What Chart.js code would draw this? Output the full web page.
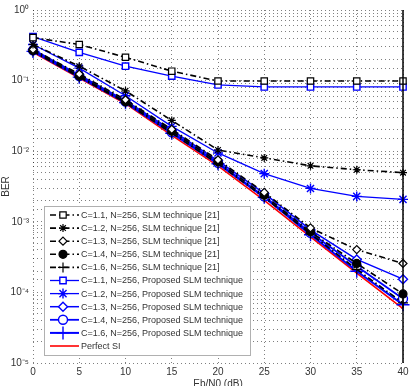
<!DOCTYPE html>
<html>
<head>
<meta charset="utf-8">
<script src="https://cdn.jsdelivr.net/npm/chart.js@4/dist/chart.umd.min.js"></script>
<style>
  body { margin: 0; background: #fff; }
  #wrap { width: 415px; height: 386px; }
</style>
</head>
<body>
<div id="wrap"><canvas id="berChart"></canvas></div>
<script>
const snr = [0, 5, 10, 15, 20, 25, 30, 35, 40];

// SLM technique [21]
const slm11 = [0.406, 0.325, 0.214, 0.136, 0.0987, 0.0987, 0.0987, 0.0987, 0.0987];
const slm12 = [0.325, 0.160, 0.0716, 0.0273, 0.0104, 0.00804, 0.00621, 0.00546, 0.00497];
const slm13 = [0.276, 0.124, 0.0536, 0.0204, 0.00754, 0.00261, 8.19e-4, 4.04e-4, 2.57e-4];
const slm14 = [0.268, 0.116, 0.0503, 0.0191, 0.00707, 0.00237, 7.21e-4, 2.57e-4, 9.5e-5];
const slm16 = [0.259, 0.112, 0.0487, 0.0180, 0.00663, 0.00222, 6.76e-4, 2.12e-4, 7.1e-5];

// proposed SLM technique
const prop11 = [0.420, 0.251, 0.160, 0.116, 0.0868, 0.0814, 0.0814, 0.0814, 0.0814];
const prop12 = [0.325, 0.150, 0.0610, 0.0225, 0.00944, 0.00481, 0.00297, 0.00229, 0.00208];
const prop13 = [0.276, 0.120, 0.0519, 0.0198, 0.00730, 0.00252, 7.68e-4, 2.93e-4, 1.54e-4];
const prop14 = [0.268, 0.116, 0.0503, 0.0185, 0.00684, 0.00229, 6.98e-4, 2.34e-4, 8.1e-5];
const prop16 = [0.259, 0.112, 0.0487, 0.0180, 0.00663, 0.00222, 6.55e-4, 1.99e-4, 6.7e-5];

const perfectSI = [0.251, 0.109, 0.0471, 0.0168, 0.00621, 0.00201, 6.14e-4, 1.87e-4, 5.9e-5];

const labels = [
  "C=1.1, N=256, SLM technique [21]",
  "C=1.2, N=256, SLM technique [21]",
  "C=1.3, N=256, SLM technique [21]",
  "C=1.4, N=256, SLM technique [21]",
  "C=1.6, N=256, SLM technique [21]",
  "C=1.1, N=256, Proposed SLM technique",
  "C=1.2, N=256, Proposed SLM technique",
  "C=1.3, N=256, Proposed SLM technique",
  "C=1.4, N=256, Proposed SLM technique",
  "C=1.6, N=256, Proposed SLM technique",
  "Perfect SI"
];

const superDigits = { "-": "\u207B", "0": "\u2070", "1": "\u00B9", "2": "\u00B2", "3": "\u00B3", "4": "\u2074", "5": "\u2075" };

function points(values) {
  return values.map((v, i) => ({ x: snr[i], y: v }));
}

function slmSet(i, values, style, fill, radius) {
  return {
    label: labels[i],
    data: points(values),
    borderColor: "#000",
    borderWidth: 1.6,
    borderDash: [6, 3, 1.5, 3],
    pointStyle: style,
    pointRadius: radius,
    pointBorderWidth: 1.2,
    pointBackgroundColor: fill,
    pointBorderColor: "#000",
    clip: false
  };
}

function propSet(i, values, style, radius, width) {
  return {
    label: labels[i],
    data: points(values),
    borderColor: "#0000ff",
    borderWidth: width,
    pointStyle: style,
    pointRadius: radius,
    pointBorderWidth: 1.4,
    pointBackgroundColor: "#fff",
    pointBorderColor: "#0000ff",
    clip: false
  };
}

const datasets = [
  slmSet(0, slm11, "rect", "#fff", 4.5),
  slmSet(1, slm12, "star", "#000", 4),
  slmSet(2, slm13, "rectRot", "#fff", 4),
  slmSet(3, slm14, "circle", "#000", 4),
  slmSet(4, slm16, "cross", "#000", 5),
  propSet(5, prop11, "rect", 4.5, 1.3),
  propSet(6, prop12, "star", 5, 1.3),
  propSet(7, prop13, "rectRot", 4.5, 1.5),
  propSet(8, prop14, "circle", 4.5, 1.8),
  propSet(9, prop16, "cross", 6.5, 2),
  {
    label: labels[10],
    data: points(perfectSI),
    borderColor: "#ff0000",
    borderWidth: 1.6,
    pointRadius: 0,
    clip: false
  }
];

// legend box drawn inside the plot, bottom-left
const boxLegend = {
  id: "boxLegend",
  afterDatasetsDraw(chart) {
    const ctx = chart.ctx;
    const x0 = 44, y0 = 206, w = 206, h = 149;
    ctx.save();
    ctx.fillStyle = "#fff";
    ctx.fillRect(x0, y0, w, h);
    ctx.strokeStyle = "#b0b0b0";
    ctx.lineWidth = 1;
    ctx.strokeRect(x0 + 0.5, y0 + 0.5, w, h);
    chart.data.datasets.forEach((ds, i) => {
      const y = 215 + i * 13.1;
      ctx.strokeStyle = ds.borderColor;
      ctx.lineWidth = ds.borderWidth;
      ctx.setLineDash(ds.borderDash || []);
      ctx.beginPath();
      ctx.moveTo(50, y);
      ctx.lineTo(79, y);
      ctx.stroke();
      ctx.setLineDash([]);
      if (ds.pointRadius > 0) {
        ctx.fillStyle = ds.pointBackgroundColor;
        ctx.strokeStyle = ds.pointBorderColor;
        ctx.lineWidth = ds.pointBorderWidth;
        Chart.helpers.drawPoint(ctx, {
          pointStyle: ds.pointStyle,
          radius: ds.pointRadius,
          rotation: 0,
          borderWidth: ds.pointBorderWidth
        }, 63, y);
      }
      ctx.fillStyle = "#333";
      ctx.font = "9px 'Liberation Sans', Arial, sans-serif";
      ctx.textBaseline = "middle";
      ctx.fillText(ds.label, 81, y + 0.5);
    });
    ctx.restore();
  },
  afterDraw(chart) {
    const a = chart.chartArea;
    const ctx = chart.ctx;
    ctx.save();
    ctx.strokeStyle = "#000";
    ctx.lineWidth = 1.5;
    ctx.beginPath();
    ctx.moveTo(a.right, a.top);
    ctx.lineTo(a.right, a.bottom);
    ctx.stroke();
    ctx.restore();
  }
};

const ctx = document.getElementById("berChart").getContext("2d");

new Chart(ctx, {
  type: "line",
  data: { datasets: datasets },
  options: {
    responsive: true,
    maintainAspectRatio: false,
    animation: false,
    layout: { padding: { top: 0, right: 12, left: 0, bottom: 0 } },
    plugins: {
      legend: { display: false },
      tooltip: { enabled: false }
    },
    scales: {
      x: {
        type: "linear",
        min: 0,
        max: 40,
        afterFit: (scale) => { scale.height = 23; },
        ticks: {
          stepSize: 5,
          padding: 3,
          color: "#333",
          font: { family: "'Liberation Sans', Arial, sans-serif", size: 10 }
        },
        grid: { color: "rgba(0,0,0,0.5)", drawTicks: false },
        border: { display: false, dash: [1, 3] },
        title: {
          display: true,
          text: "Eb/N0 (dB)",
          color: "#333",
          padding: { top: 0, bottom: -4 },
          font: { family: "'Liberation Sans', Arial, sans-serif", size: 10 }
        }
      },
      y: {
        type: "logarithmic",
        min: 1e-5,
        max: 1,
        afterFit: (scale) => { scale.width = 33; },
        ticks: {
          autoSkip: false,
          padding: 4,
          color: "#333",
          font: { family: "'Liberation Sans', Arial, sans-serif", size: 10 },
          callback: (value) => {
            const e = Math.log10(value);
            if (Math.abs(e - Math.round(e)) > 1e-6) return "";
            const s = String(Math.round(e)).split("").map((c) => superDigits[c]).join("");
            return "10" + s;
          }
        },
        grid: { color: "rgba(0,0,0,0.5)", drawTicks: false },
        border: { display: false, dash: [1, 3] },
        title: {
          display: true,
          text: "BER",
          color: "#333",
          padding: { top: 0, bottom: 0 },
          font: { family: "'Liberation Sans', Arial, sans-serif", size: 10 }
        }
      }
    }
  },
  plugins: [boxLegend]
});
</script>
</body>
</html>
